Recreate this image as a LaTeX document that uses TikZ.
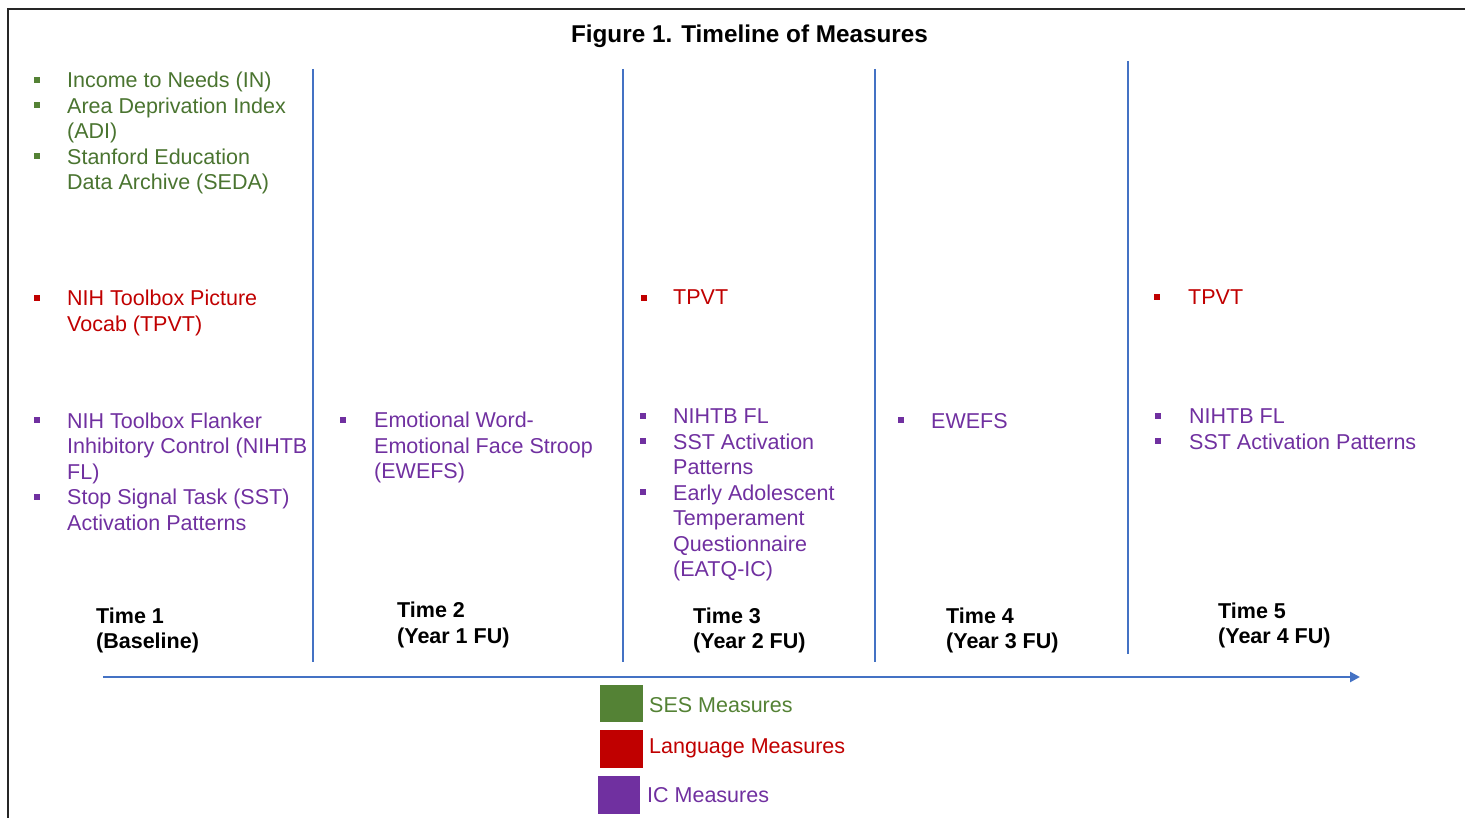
\documentclass[tikz,border=0pt]{standalone}
\usepackage{fontspec}
\setmainfont{Liberation Sans}
\usetikzlibrary{arrows.meta}

\definecolor{sesgreen}{HTML}{548235}
\definecolor{sestext}{HTML}{4A7430}
\definecolor{langred}{HTML}{C00000}
\definecolor{icpurple}{HTML}{7030A0}
\definecolor{axisblue}{HTML}{4472C4}

\begin{document}
\begin{tikzpicture}[x=1pt, y=-1pt, >={Triangle[length=10pt,width=10pt]}]
  \tikzstyle{txt} = [anchor=base west, inner sep=0, align=left, font=\fontsize{21.5}{25.5}\selectfont]
  \tikzstyle{timelbl} = [txt, font=\fontsize{21.5}{25.5}\selectfont\bfseries]
  \tikzstyle{bul} = [rectangle, inner sep=0, minimum size=6pt, fill]
  \tikzstyle{legbox} = [rectangle, inner sep=0, minimum width=43pt, minimum height=37pt, fill]
  \tikzstyle{divider} = [draw=axisblue, line width=2.8pt]
  \useasboundingbox (0,0) rectangle (1465,818);

  % frame and title
  \draw [line width=1.5pt, black!85] (1465,9) -- (8,9) -- (8,818);
  \node [anchor=base, inner sep=0, font=\fontsize{24.3}{29}\selectfont\bfseries] (title) at (749.5,43) {Figure 1. Timeline of Measures};

  % dividers between the time points
  \draw [divider] (313,69) -- (313,662);
  \draw [divider] (623,69) -- (623,662);
  \draw [divider] (875,69) -- (875,662);
  \draw [divider] (1128,61) -- (1128,654);

  % note: base of a multi-line node is the baseline of its last line
  % time 1
  \node [bul, sesgreen] (b1a) at (37,80) {};
  \node [txt, sestext] (in) at (67,88) {Income to Needs (IN)};
  \node [bul, sesgreen] (b1b) at (37,105.5) {};
  \node [txt, sestext] (adi) at (67,139) {Area Deprivation Index\\(ADI)};
  \node [bul, sesgreen] (b1c) at (37,156.5) {};
  \node [txt, sestext] (seda) at (67,190) {Stanford Education\\Data Archive (SEDA)};
  \node [bul, langred] (b1d) at (37,298) {};
  \node [txt, langred] (tpvt1) at (67,331.5) {NIH Toolbox Picture\\Vocab (TPVT)};
  \node [bul, icpurple] (b1e) at (37,420) {};
  \node [txt, icpurple] (fl1) at (67,479) {NIH Toolbox Flanker\\Inhibitory Control (NIHTB\\FL)};
  \node [bul, icpurple] (b1f) at (37,496.5) {};
  \node [txt, icpurple] (sst1) at (67,530) {Stop Signal Task (SST)\\Activation Patterns};
  \node [timelbl] (t1) at (96,648.5) {Time 1\\(Baseline)};

  % time 2
  \node [bul, icpurple] (b2a) at (343,420) {};
  \node [txt, icpurple] (ewefs2) at (374,478.5) {Emotional Word-\\Emotional Face Stroop\\(EWEFS)};
  \node [timelbl] (t2) at (397,643) {Time 2\\(Year 1 FU)};

  % time 3
  \node [bul, langred] (b3a) at (644,298) {};
  \node [txt, langred] (tpvt3) at (673,305) {TPVT};
  \node [bul, icpurple] (b3b) at (643,415.5) {};
  \node [txt, icpurple] (fl3) at (673,423.5) {NIHTB FL};
  \node [bul, icpurple] (b3c) at (643,441) {};
  \node [txt, icpurple] (sst3) at (673,474.5) {SST Activation\\Patterns};
  \node [bul, icpurple] (b3d) at (643,492) {};
  \node [txt, icpurple] (eatq) at (673,576.5) {Early Adolescent\\Temperament\\Questionnaire\\(EATQ-IC)};
  \node [timelbl] (t3) at (693,648.5) {Time 3\\(Year 2 FU)};

  % time 4
  \node [bul, icpurple] (b4a) at (901,420) {};
  \node [txt, icpurple] (ewefs4) at (931,428) {EWEFS};
  \node [timelbl] (t4) at (946,648.5) {Time 4\\(Year 3 FU)};

  % time 5
  \node [bul, langred] (b5a) at (1157,297) {};
  \node [txt, langred] (tpvt5) at (1188,304.5) {TPVT};
  \node [bul, icpurple] (b5b) at (1158,415.5) {};
  \node [txt, icpurple] (fl5) at (1189,423.5) {NIHTB FL};
  \node [bul, icpurple] (b5c) at (1158,441) {};
  \node [txt, icpurple] (sst5) at (1189,449) {SST Activation Patterns};
  \node [timelbl] (t5) at (1218,643.5) {Time 5\\(Year 4 FU)};

  % time axis
  \coordinate (axisstart) at (103,677);
  \coordinate (axisend) at (1360,677);
  \draw [->, draw=axisblue, fill=axisblue, line width=2.8pt] (axisstart) -- (axisend);

  % legend
  \node [legbox, sesgreen] (sesbox) at (621.5,703.5) {};
  \node [txt, sesgreen] (seslbl) at (649,712) {SES Measures};
  \node [legbox, langred, minimum height=38pt] (langbox) at (621.5,749) {};
  \node [txt, langred] (langlbl) at (649,753) {Language Measures};
  \node [legbox, icpurple, minimum width=42pt, minimum height=38pt] (icbox) at (619,795) {};
  \node [txt, icpurple] (iclbl) at (647,802) {IC Measures};
\end{tikzpicture}
\end{document}
